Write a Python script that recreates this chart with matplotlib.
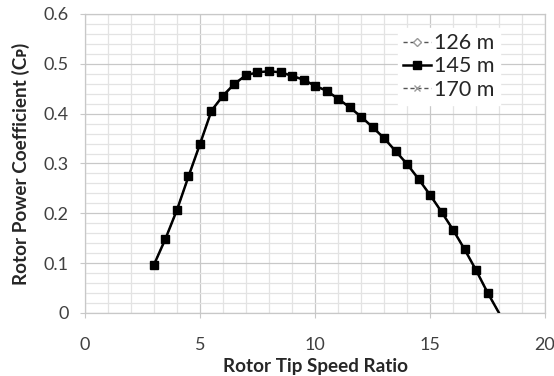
import matplotlib
matplotlib.use("Agg")
import matplotlib.pyplot as plt
from matplotlib.ticker import MultipleLocator

plt.rcParams['font.family'] = ['Lato', 'DejaVu Sans']

tsr = [3, 3.5, 4, 4.5, 5, 5.5, 6, 6.5, 7, 7.5, 8, 8.5, 9, 9.5, 10, 10.5, 11, 11.5,
       12, 12.5, 13, 13.5, 14, 14.5, 15, 15.5, 16, 16.5, 17, 17.5, 18]
cp_145 = [0.097, 0.149, 0.207, 0.274, 0.339, 0.406, 0.436, 0.460, 0.477, 0.483, 0.485,
          0.483, 0.476, 0.468, 0.456, 0.446, 0.430, 0.413, 0.394, 0.373, 0.351, 0.325,
          0.299, 0.269, 0.237, 0.203, 0.167, 0.128, 0.086, 0.041, 0.0]
cp_126 = list(cp_145)
cp_170 = list(cp_145)
labels = ['126 m', '145 m', '170 m']
ytick_labels = ['0', '0.1', '0.2', '0.3', '0.4', '0.5', '0.6']

fig = plt.figure(figsize=(5.54, 3.76), dpi=100)
ax = fig.add_axes([0.1534, 0.1676, 0.8304, 0.7952])

mk = slice(0, len(tsr) - 1)
ax.plot(tsr, cp_126, ls=(0, (3, 2)), color='#555555', lw=1.0, marker='D', ms=4,
        mfc='white', mec='#999999', markevery=mk, label=labels[0], zorder=3)
ax.plot(tsr, cp_145, ls='-', color='black', lw=1.8, marker='s', ms=5.5,
        mfc='black', mec='black', markevery=mk, label=labels[1], zorder=5)
ax.plot(tsr, cp_170, ls=(0, (3, 2)), color='#555555', lw=1.0, marker='x', ms=4,
        mec='#999999', markevery=mk, label=labels[2], zorder=4)

ax.set_xlim(0, 20)
ax.set_ylim(0, 0.6)
ax.xaxis.set_major_locator(MultipleLocator(5))
ax.xaxis.set_minor_locator(MultipleLocator(1))
ax.set_yticks([0, 0.1, 0.2, 0.3, 0.4, 0.5, 0.6])
ax.set_yticklabels(ytick_labels)
ax.yaxis.set_minor_locator(MultipleLocator(0.02))

ax.grid(which='major', color='#c8c8c8', lw=0.9)
ax.grid(which='minor', color='#e3e3e3', lw=0.9)
ax.set_axisbelow(True)
for s in ax.spines.values():
    s.set_color('#c8c8c8')
    s.set_linewidth(0.9)
ax.tick_params(which='major', length=3.6, color='#c8c8c8', labelsize=13,
               labelcolor='#404040')
ax.tick_params(axis='x', pad=14)
ax.tick_params(axis='y', pad=8)
ax.tick_params(which='minor', length=0)

ax.set_xlabel('Rotor Tip Speed Ratio', fontsize=13.6, fontweight='bold',
              color='#262626', labelpad=3)
ax.set_ylabel('Rotor Power Coefficient (Cᴘ)', fontsize=13.6, fontweight='bold',
              color='#262626', labelpad=10)

leg = ax.legend(loc='upper right', bbox_to_anchor=(0.925, 0.99), frameon=True,
                fontsize=15.5, handlelength=1.3, handletextpad=0.12,
                borderpad=0.25, labelspacing=0.15, fancybox=False)
leg.get_frame().set_edgecolor('white')
leg.get_frame().set_facecolor('white')
leg.get_frame().set_alpha(1)
for t in leg.get_texts():
    t.set_color('#262626')

fig.savefig('out.png', dpi=100)
